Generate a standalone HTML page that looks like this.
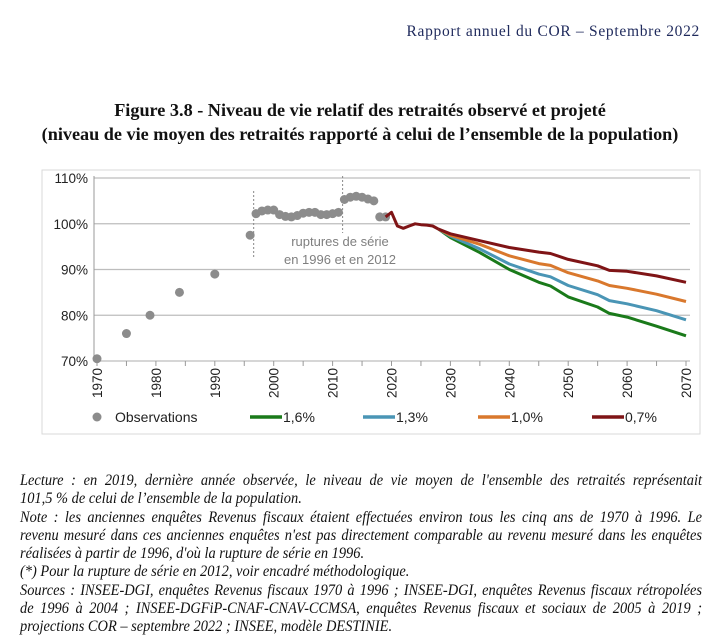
<!DOCTYPE html>
<html><head><meta charset="utf-8"><style>
body{margin:0;width:720px;height:624px;background:#fff;overflow:hidden;position:relative;font-family:"Liberation Serif",serif}
.hdr{position:absolute;right:20px;top:23px;font-size:15.5px;color:#1f2a5c;letter-spacing:.7px}
.t{position:absolute;left:0;width:720px;text-align:center;font-weight:bold;font-size:18.2px;color:#111}
.notes{position:absolute;left:20px;top:472px;width:682px;font-style:italic;font-size:15.5px;color:#111}
.notes div{white-space:nowrap;height:18.3px;line-height:18.3px;transform-origin:0 50%}
</style></head><body>
<div class="hdr">Rapport annuel du COR – Septembre 2022</div>
<div class="t" style="top:100px">Figure 3.8 - Niveau de vie relatif des retraités observé et projeté</div>
<div class="t" style="top:124px">(niveau de vie moyen des retraités rapporté à celui de l’ensemble de la population)</div>
<svg id="chart" width="720" height="624" style="position:absolute;left:0;top:0" font-family="Liberation Sans, sans-serif"></svg>
<div class="notes">
<div data-j="1">Lecture : en 2019, dernière année observée, le niveau de vie moyen de l'ensemble des retraités représentait</div>
<div>101,5 % de celui de l’ensemble de la population.</div>
<div data-j="1">Note : les anciennes enquêtes Revenus fiscaux étaient effectuées environ tous les cinq ans de 1970 à 1996. Le</div>
<div data-j="1">revenu mesuré dans ces anciennes enquêtes n'est pas directement comparable au revenu mesuré dans les enquêtes</div>
<div>réalisées à partir de 1996, d'où la rupture de série en 1996.</div>
<div>(*) Pour la rupture de série en 2012, voir encadré méthodologique.</div>
<div data-j="1">Sources : INSEE-DGI, enquêtes Revenus fiscaux 1970 à 1996 ; INSEE-DGI, enquêtes Revenus fiscaux rétropolées</div>
<div data-j="1">de 1996 à 2004 ; INSEE-DGFiP-CNAF-CNAV-CCMSA, enquêtes Revenus fiscaux et sociaux de 2005 à 2019 ;</div>
<div>projections COR – septembre 2022 ; INSEE, modèle DESTINIE.</div>
</div>
<script>
const obsYears=[1970,1975,1979,1984,1990,1996,1997,1998,1999,2000,2001,2002,2003,2004,2005,2006,2007,2008,2009,2010,2011,2012,2013,2014,2015,2016,2017,2018,2019];
const obsValues=[70.5,76,80,85,89,97.5,102.2,102.8,103,103,102,101.6,101.5,101.8,102.3,102.5,102.5,102,102,102.2,102.5,105.3,105.8,106,105.8,105.4,105,101.5,101.5];
const commonYears=[2019,2020,2021,2022,2023,2024,2025,2026,2027,2028];
const commonValues=[101.5,102.5,99.5,99,99.5,100,99.8,99.7,99.5,98.8];
const projYears=[2028,2030,2035,2040,2045,2047,2050,2055,2057,2060,2065,2070];
const s16=[98.8,97,93.7,90,87.2,86.4,84,81.8,80.4,79.6,77.6,75.5];
const s13=[98.8,97.3,94.5,91.2,89,88.4,86.5,84.5,83.2,82.5,81,79];
const s10=[98.8,97.5,95.5,93,91.3,90.9,89.3,87.5,86.5,85.9,84.6,83];
const s07=[98.8,97.8,96.3,94.8,93.8,93.5,92.2,90.8,89.8,89.6,88.6,87.2];
const yTicks=[70,80,90,100,110];
const xTicks=[1970,1980,1990,2000,2010,2020,2030,2040,2050,2060,2070];
const series=[{n:"1,6%",v:s16,c:"#1a7a1a",k:"16"},{n:"1,3%",v:s13,c:"#4a95b5",k:"13"},{n:"1,0%",v:s10,c:"#d9782d",k:"10"},{n:"0,7%",v:s07,c:"#7f1416",k:"07"}];
const svg=document.getElementById('chart'),NS='http://www.w3.org/2000/svg';
const X=y=>97+(y-1970)*5.89, Y=v=>361-(v-70)*4.575;
function mk(t,a,p){const e=document.createElementNS(NS,t);for(const k in a)e.setAttribute(k,a[k]);(p||svg).appendChild(e);return e;}
const frame=mk('rect',{x:42,y:170,width:658,height:264,fill:'none',stroke:'#d9d9d9'});


yTicks.forEach(t=>{
 const g=mk('line',{x1:94,x2:690,y1:Y(t),y2:Y(t),stroke:'#bdbdbd','stroke-width':1.3});
 
 
 const l=mk('text',{x:88,y:Y(t)+5,'text-anchor':'end','font-size':13.5,fill:'#222'});l.textContent=t+'%';
 
 
});
const ax=mk('line',{x1:94,x2:94,y1:176,y2:361,stroke:'#999'});


for(let y=1970;y<=2070;y+=5){const tk=mk('line',{x1:X(y),x2:X(y),y1:361,y2:366,stroke:'#999'});
 
 }
xTicks.forEach(t=>{
 const l=mk('text',{transform:`translate(${X(t)+5},368) rotate(-90)`,'text-anchor':'end','font-size':13.5,fill:'#222'});l.textContent=t;
 
 
});
[[1996.6,191,258],[2011.7,176,233]].forEach(d=>{
 const l=mk('line',{x1:X(d[0]),x2:X(d[0]),y1:d[1],y2:d[2],stroke:'#888','stroke-dasharray':'2,2'});
 
 
});
[['ruptures de série',246],['en 1996 et en 2012',264]].forEach(a=>{
 const t=mk('text',{x:340,y:a[1],'text-anchor':'middle','font-size':13,fill:'#7f7f7f'});t.textContent=a[0];
 
 
});
obsYears.forEach((y,i)=>{
 const c=mk('circle',{cx:X(y),cy:Y(obsValues[i]),r:4.5,fill:'#8c8c8c'});
 
 
});
const path=(ys,vs)=>ys.map((y,i)=>(i?'L':'M')+X(y).toFixed(1)+','+Y(vs[i]).toFixed(1)).join('');
series.forEach(s=>{
 const p=mk('path',{d:path(projYears,s.v),fill:'none',stroke:s.c,'stroke-width':3,'stroke-linejoin':'round'});
 
 
});
const cm=mk('path',{d:path(commonYears,commonValues),fill:'none',stroke:'#7f1416','stroke-width':3,'stroke-linejoin':'round'});


const lg=mk('circle',{cx:97,cy:417,r:4.5,fill:'#8c8c8c'});


const lt=mk('text',{x:115,y:422,'font-size':14,fill:'#222'});lt.textContent='Observations';


const lx=[250,363,478,592];
series.forEach((s,i)=>{
 const l=mk('line',{x1:lx[i],x2:lx[i]+32,y1:417,y2:417,stroke:s.c,'stroke-width':3.5});
 
 
 const t=mk('text',{x:lx[i]+33,y:422,'font-size':14,fill:'#222'});t.textContent=s.n;
 
 
});
const SC=0.93;
document.querySelectorAll('.notes div').forEach(d=>{
 
 
 d.style.display='inline-block';
 const w=d.getBoundingClientRect().width;d.style.display='block';
 let sc=SC;
 if(d.dataset.j){
  const spaces=(d.textContent.match(/ /g)||[]).length;
  let extra=(682/SC-w)/spaces;
  if(extra<0){sc=682/w;extra=0;}
  d.style.wordSpacing=extra+'px';
 }
 d.style.transform='scaleX('+sc+')';
});
</script>
</body></html>
